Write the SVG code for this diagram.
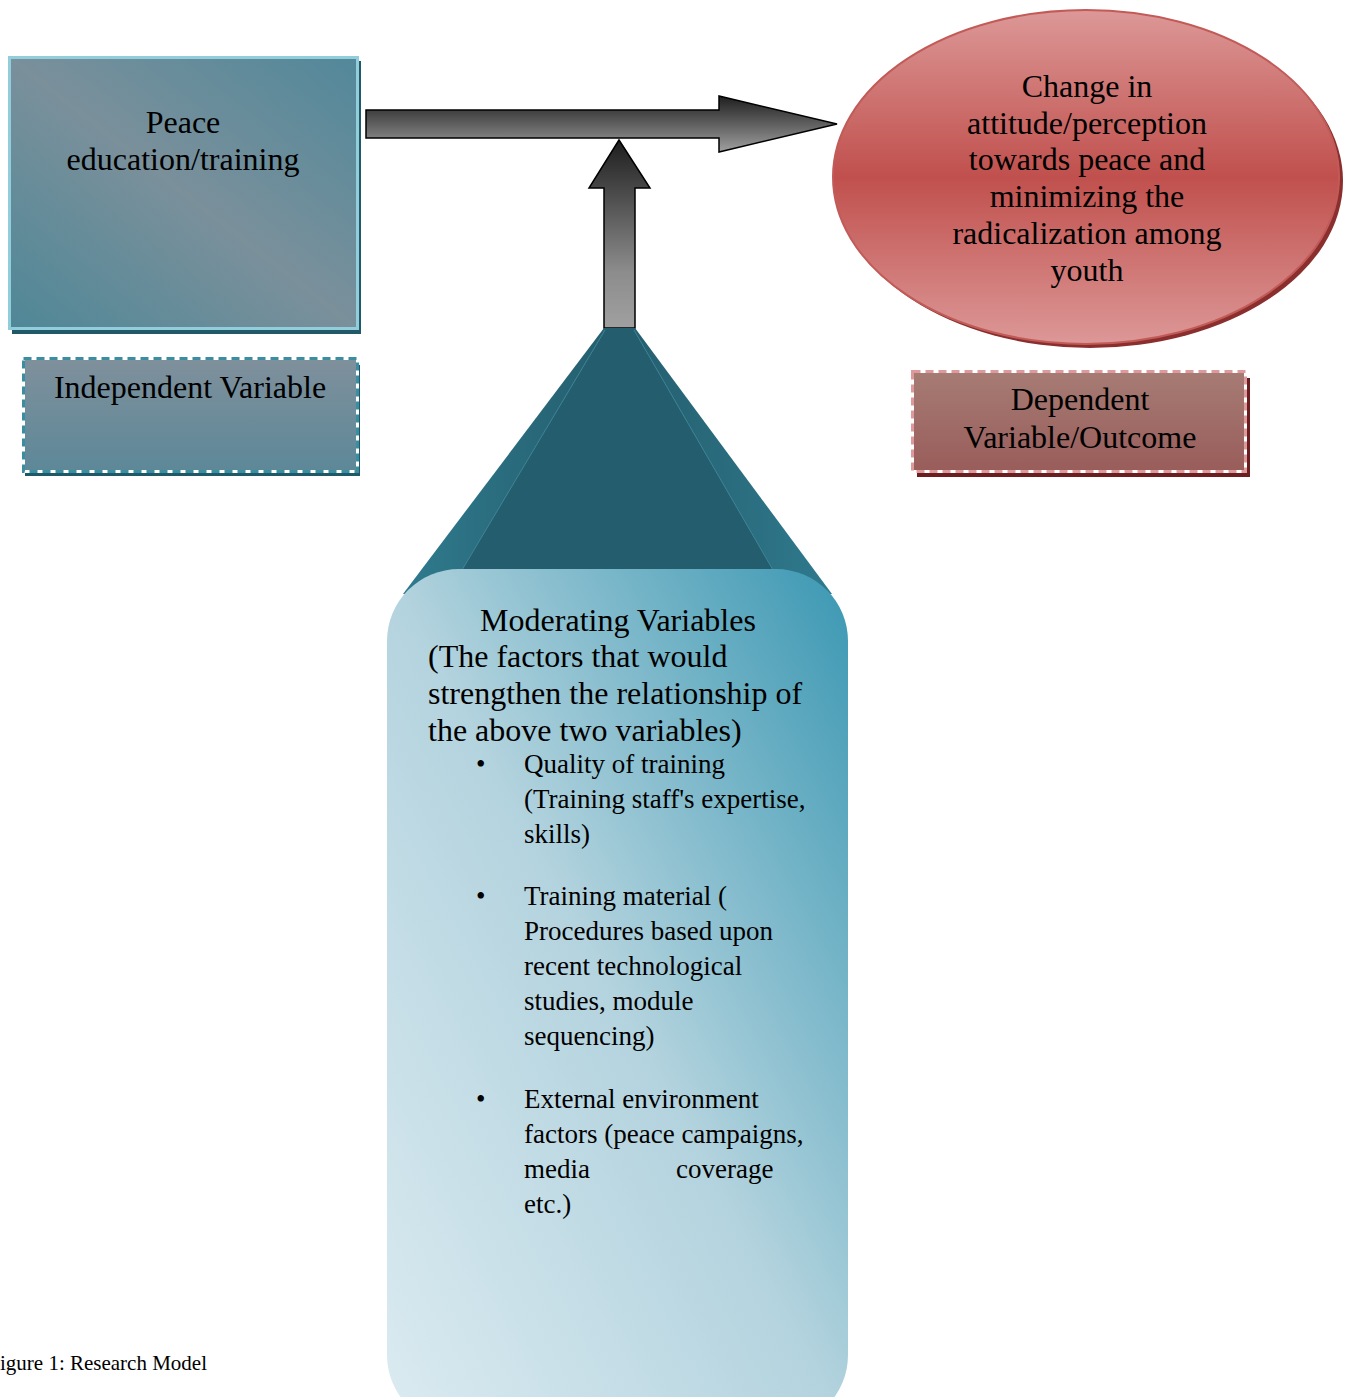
<svg xmlns="http://www.w3.org/2000/svg" width="1349" height="1397" viewBox="0 0 1349 1397">
<defs>
<linearGradient id="gPeace" x1="0" y1="1" x2="1" y2="0">
<stop offset="0" stop-color="#4f8797"/>
<stop offset="0.5" stop-color="#7a909b"/>
<stop offset="1" stop-color="#52889a"/>
</linearGradient>
<linearGradient id="gIndep" x1="0" y1="0" x2="0" y2="1">
<stop offset="0" stop-color="#7f909c"/>
<stop offset="1" stop-color="#5d8898"/>
</linearGradient>
<linearGradient id="gDep" x1="0" y1="0" x2="0" y2="1">
<stop offset="0" stop-color="#a67b74"/>
<stop offset="1" stop-color="#995d5a"/>
</linearGradient>
<linearGradient id="gEll" x1="0" y1="0" x2="0" y2="1">
<stop offset="0" stop-color="#dc9897"/>
<stop offset="0.5" stop-color="#c0504d"/>
<stop offset="1" stop-color="#dc9897"/>
</linearGradient>
<linearGradient id="gArrow" x1="0" y1="0" x2="0" y2="1">
<stop offset="0" stop-color="#1e1e1e"/>
<stop offset="1" stop-color="#a0a0a0"/>
</linearGradient>
<linearGradient id="gArrowV" x1="0" y1="0" x2="0" y2="1">
<stop offset="0" stop-color="#1e1e1e"/>
<stop offset="0.7" stop-color="#8c8c8c"/>
<stop offset="1" stop-color="#a0a0a0"/>
</linearGradient>
<linearGradient id="gMod" x1="0" y1="1" x2="1" y2="0">
<stop offset="0" stop-color="#dcebf1"/>
<stop offset="0.5" stop-color="#b3d3de"/>
<stop offset="1" stop-color="#3a97b2"/>
</linearGradient>
<linearGradient id="gCone" x1="0" y1="0" x2="1" y2="0">
<stop offset="0" stop-color="#2f7a8d"/>
<stop offset="0.5" stop-color="#245d6d"/>
<stop offset="1" stop-color="#2f7a8d"/>
</linearGradient>
</defs>
<style>
.t{font-family:"Liberation Serif","Times New Roman",serif;fill:#000;}
.l{font-size:32px;}
.s{font-size:27px;}
.c{text-anchor:middle;}
</style>

<g id="connectors">
<polygon points="366,110 719,110 719,96 837,124 719,152 719,138 366,138" fill="url(#gArrow)" stroke="#000" stroke-width="1.5"/>
<polygon points="619,140 650,188 635,188 635,328 604,328 604,188 589,188" fill="url(#gArrowV)" stroke="#000" stroke-width="1.5"/>
</g>

<g id="peace-node">
<rect x="12" y="61" width="349" height="273" fill="#215968"/>
<rect x="9.5" y="57.5" width="348" height="271" fill="url(#gPeace)" stroke="#92cddb" stroke-width="3"/>
<text class="t l c" x="183" y="133">Peace</text>
<text class="t l c" x="183" y="170">education/training</text>
</g>

<g id="independent-label">
<rect x="25" y="365" width="335" height="111" fill="#1f5866"/>
<rect x="24" y="359" width="333" height="112" fill="url(#gIndep)"/>
<rect x="23.5" y="358.5" width="334" height="113" fill="none" stroke="#ffffff" stroke-width="3"/>
<rect x="23.5" y="358.5" width="334" height="113" fill="none" stroke="#3a8ea0" stroke-width="3" stroke-dasharray="8,5"/>
<text class="t l c" x="190" y="398">Independent Variable</text>
</g>

<g id="outcome-node">
<ellipse cx="1090" cy="181" rx="253" ry="167" fill="#8a2f2e"/>
<ellipse cx="1086" cy="177" rx="253" ry="167" fill="url(#gEll)" stroke="#c25b58" stroke-width="2"/>
<text class="t l c" x="1087" y="97">Change in</text>
<text class="t l c" x="1087" y="134">attitude/perception</text>
<text class="t l c" x="1087" y="170">towards peace and</text>
<text class="t l c" x="1087" y="207">minimizing the</text>
<text class="t l c" x="1087" y="244">radicalization among</text>
<text class="t l c" x="1087" y="281">youth</text>
</g>

<g id="dependent-label">
<rect x="917" y="378" width="333" height="99" fill="#6b1e20"/>
<rect x="914" y="373" width="330" height="98" fill="url(#gDep)"/>
<rect x="912.5" y="371.5" width="333" height="100" fill="none" stroke="#ffffff" stroke-width="3"/>
<rect x="912.5" y="371.5" width="333" height="100" fill="none" stroke="#dc9a9c" stroke-width="3" stroke-dasharray="8,5"/>
<text class="t l c" x="1080" y="410">Dependent</text>
<text class="t l c" x="1080" y="448">Variable/Outcome</text>
</g>

<g id="moderating-node">
<polygon points="604,328 635,328 832,594 403,594" fill="url(#gCone)"/>
<polygon points="605,330 634,330 773,570 462,570" fill="#245d6d"/>
<line x1="605" y1="330" x2="462" y2="570" stroke="#3f8597" stroke-width="1"/>
<line x1="634" y1="330" x2="773" y2="570" stroke="#3f8597" stroke-width="1"/>
<rect x="387" y="569" width="461" height="858" rx="72" ry="72" fill="url(#gMod)"/>
<text class="t l c" x="618" y="631">Moderating Variables</text>
<text class="t l" x="428" y="667">(The factors that would</text>
<text class="t l" x="428" y="704">strengthen the relationship of</text>
<text class="t l" x="428" y="741">the above two variables)</text>
<text class="t s" x="476" y="773">•</text>
<text class="t s" x="524" y="773">Quality of training</text>
<text class="t s" x="524" y="808">(Training staff's expertise,</text>
<text class="t s" x="524" y="843">skills)</text>
<text class="t s" x="476" y="905">•</text>
<text class="t s" x="524" y="905">Training material (</text>
<text class="t s" x="524" y="940">Procedures based upon</text>
<text class="t s" x="524" y="975">recent technological</text>
<text class="t s" x="524" y="1010">studies, module</text>
<text class="t s" x="524" y="1045">sequencing)</text>
<text class="t s" x="476" y="1108">•</text>
<text class="t s" x="524" y="1108">External environment</text>
<text class="t s" x="524" y="1143">factors (peace campaigns,</text>
<text class="t s" x="524" y="1178">media</text>
<text class="t s" x="676" y="1178">coverage</text>
<text class="t s" x="524" y="1213">etc.)</text>
</g>

<text class="t" x="0" y="1370" font-size="21">igure 1: Research Model</text>
</svg>
